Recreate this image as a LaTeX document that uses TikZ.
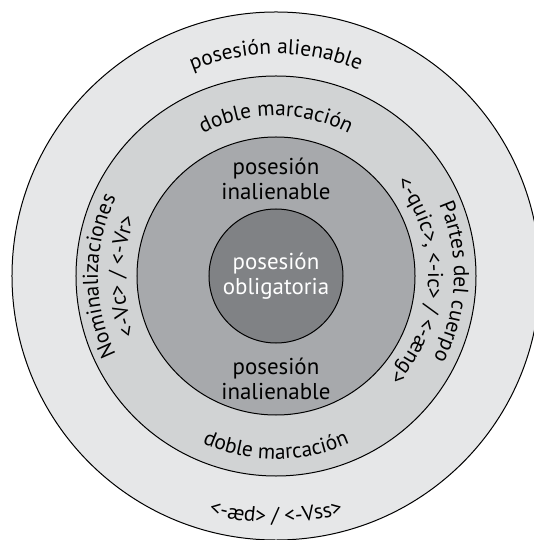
\documentclass[tikz,border=0pt]{standalone}
\usepackage{fontspec}
\setmainfont{PT Sans}
\usepackage{xcolor}
\usepackage{tikz}
\usetikzlibrary{decorations.text}

\definecolor{ringA}{HTML}{E6E7E8}
\definecolor{ringB}{HTML}{D1D3D4}
\definecolor{ringC}{HTML}{A7A9AC}
\definecolor{ringD}{HTML}{808285}

\begin{document}
\begin{tikzpicture}[x=1bp,y=1bp,
        ring/.style={draw,circle,line width=1bp,inner sep=0pt},
        flat/.style={align=center,font=\fontsize{23}{25}\selectfont},
        bend/.style={decorate,decoration={text along path,text align=center,
            text={|\fontsize{21.5}{25}\selectfont|#1}}}]
    \useasboundingbox (-276,-264) rectangle (258,276);
    \clip (-276,-264) rectangle (258,276);
    \fill[white] (-276,-264) rectangle (258,276);

    \node (alien) [ring,fill=ringA,minimum size=528bp] at (0,0) {};
    \node (doble) [ring,fill=ringB,minimum size=400bp] at (0,0) {};
    \node (inal) [ring,fill=ringC,minimum size=278bp] at (0,0) {};
    \node (oblig) [ring,fill=ringD,minimum size=134bp,
        text=white,align=center,font=\fontsize{23}{25}\selectfont] at (0,0)
        {posesión\\obligatoria};

    \node (inalTop) [flat] at (0,97) {posesión\\inalienable};
    \node (inalBot) [flat] at (0,-103) {posesión\\inalienable};

    \path[bend={posesión alienable}] (150:222bp) arc[start angle=150,end angle=30,radius=222bp];
    \path[bend={<-æd> / <-Vss>}] (215:247bp) arc[start angle=215,end angle=325,radius=247bp];
    \path[bend={doble marcación}] (150:160bp) arc[start angle=150,end angle=30,radius=160bp];
    \path[bend={doble marcación}] (210:183bp) arc[start angle=210,end angle=330,radius=183bp];
    \path[bend={Nominalizaciones}] (250:178bp) arc[start angle=250,end angle=110,radius=178bp];
    \path[bend={<-Vc> / <-Vr>}] (250:152bp) arc[start angle=250,end angle=110,radius=152bp];
    \path[bend={Partes del cuerpo}] (68:178bp) arc[start angle=68,end angle=-72,radius=178bp];
    \path[bend={<-quic>, <-ic> / <-æng>}] (68:152bp) arc[start angle=68,end angle=-72,radius=152bp];
\end{tikzpicture}
\end{document}
